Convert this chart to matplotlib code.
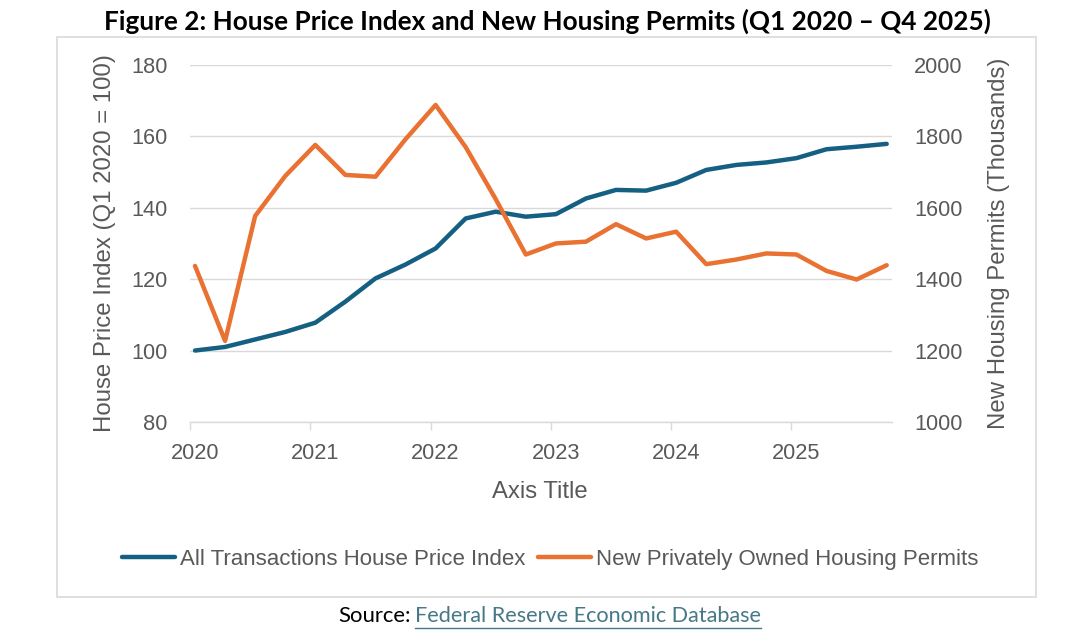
import matplotlib
matplotlib.use("Agg")
import matplotlib.pyplot as plt
from matplotlib.patches import Rectangle
from matplotlib.lines import Line2D

# ---------------- data ----------------
years = [2020]*4 + [2021]*4 + [2022]*4 + [2023]*4 + [2024]*4 + [2025]*4
quarters = [1, 2, 3, 4] * 6
hpi = [100.0, 101.0, 103.1, 105.2, 107.8, 113.7, 120.2, 124.1,
       128.6, 137.0, 138.9, 137.5, 138.2, 142.6, 145.0, 144.8,
       147.0, 150.6, 152.0, 152.7, 153.9, 156.4, 157.1, 157.9]
permits = [1437, 1227, 1577, 1689, 1776, 1692, 1687, 1792,
           1888, 1770, 1624, 1469, 1500, 1505, 1554, 1514,
           1533, 1442, 1455, 1472, 1469, 1423, 1399, 1439]
year_labels = ["2020", "2021", "2022", "2023", "2024", "2025"]
left_ticks = [80, 100, 120, 140, 160, 180]
right_ticks = [1000, 1200, 1400, 1600, 1800, 2000]

title = "Figure 2: House Price Index and New Housing Permits (Q1 2020 \u2013 Q4 2025)"
hpi_name = "All Transactions House Price Index"
permit_name = "New Privately Owned Housing Permits"
left_title = "House Price Index (Q1 2020 = 100)"
right_title = "New Housing Permits (Thousands)"
x_title = "Axis Title"

BLUE = "#156082"
ORANGE = "#E97132"
GREY = "#595959"
GRID = "#d9d9d9"
LINK = "#467886"

W, H = 1082, 633
fig = plt.figure(figsize=(W/100, H/100), dpi=100)
plt.rcParams['font.family'] = ['Liberation Sans', 'DejaVu Sans']

def fx(px):
    return px / W

def fy(py):
    return 1 - py / H

# month-slot positions (Excel date axis, base unit months)
xpos = [(y - 2020) * 12 + (q - 1) * 3 + 0.5 for y, q in zip(years, quarters)]

ax = fig.add_axes([fx(190), fy(421.9), (891.7 - 190) / W, (421.9 - 65) / H])
ax2 = ax.twinx()

ax.plot(xpos, hpi, color=BLUE, lw=3.2, solid_capstyle='round',
        solid_joinstyle='round', label=hpi_name, zorder=3)
ax2.plot(xpos, permits, color=ORANGE, lw=3.2, solid_capstyle='round',
         solid_joinstyle='round', label=permit_name, zorder=3)

ax.set_xlim(0, 70)
ax.set_ylim(80, 180)
ax2.set_ylim(1000, 2000)
ax.set_yticks(left_ticks)
ax2.set_yticks(right_ticks)
ax.grid(axis='y', color=GRID, lw=1.0)
ax.set_axisbelow(True)

for a in (ax, ax2):
    for s in ('top', 'left', 'right'):
        a.spines[s].set_visible(False)
    a.spines['bottom'].set_color(GRID)
    a.spines['bottom'].set_linewidth(1.0)
ax2.spines['bottom'].set_visible(False)

ax.tick_params(axis='y', length=0, pad=16.3, labelsize=15.7, labelcolor=GREY)
ax2.tick_params(axis='y', length=0, pad=16.0, labelsize=15.7, labelcolor=GREY)

# tick marks at year boundaries, labels centered in first month slot
year_starts = [(int(y) - 2020) * 12 for y in year_labels]
ax.set_xticks(year_starts)
ax.set_xticklabels([])
ax.set_xticks([v + 0.5 for v in year_starts], minor=True)
ax.set_xticklabels(year_labels, minor=True)
ax.tick_params(axis='x', which='major', length=6, width=1.0, color=GRID, direction='out')
ax.tick_params(axis='x', which='minor', length=0, pad=15, labelsize=15.7, labelcolor=GREY)

# axis titles
fig.text(fx(105), fy(243), left_title, rotation=90, ha='center', va='center',
         fontsize=17.3, color=GREY)
fig.text(fx(999.3), fy(243), right_title, rotation=90, ha='center', va='center',
         fontsize=17.3, color=GREY)
fig.text(fx(540), fy(498.3), x_title, ha='center', va='baseline',
         fontsize=17.2, color=GREY)

# legend
h1, l1 = ax.get_legend_handles_labels()
h2, l2 = ax2.get_legend_handles_labels()
fig.legend(h1 + h2, l1 + l2, loc='center', bbox_to_anchor=(fx(550), fy(559.3)),
           ncol=2, frameon=False, fontsize=16, handlelength=2.4,
           handletextpad=0.22, columnspacing=0.55, labelcolor=GREY,
           borderaxespad=0, borderpad=0)

# chart border
fig.patches.append(Rectangle((fx(57), fy(596.7)), (1036 - 57) / W, (596.7 - 37) / H,
                             transform=fig.transFigure, fill=False,
                             edgecolor=GRID, lw=1.2))

renderer = fig.canvas.get_renderer()

def fit(t, target_w):
    w = t.get_window_extent(renderer).width
    t.set_fontsize(t.get_fontsize() * target_w / w)
    return t

# title
tt = fig.text(fx(547), fy(30), title, ha='center', va='baseline',
              fontsize=18, fontweight='bold', color='black', family=['Lato', 'DejaVu Sans'])
fit(tt, 885)

# source line
s1 = fig.text(fx(410.5), fy(622), "Source:", ha='right', va='baseline',
              fontsize=14, color='black', family=['Lato', 'DejaVu Sans'])
fit(s1, 73)
s2 = fig.text(fx(415), fy(622), "Federal Reserve Economic Database", ha='left',
              va='baseline', fontsize=14, color=LINK, family=['Lato', 'DejaVu Sans'])
fit(s2, 346)
fig.lines.append(Line2D([fx(415), fx(761)], [fy(627.8), fy(627.8)],
                        transform=fig.transFigure, color=LINK, lw=1.0))

fig.savefig("out.png", dpi=100)
